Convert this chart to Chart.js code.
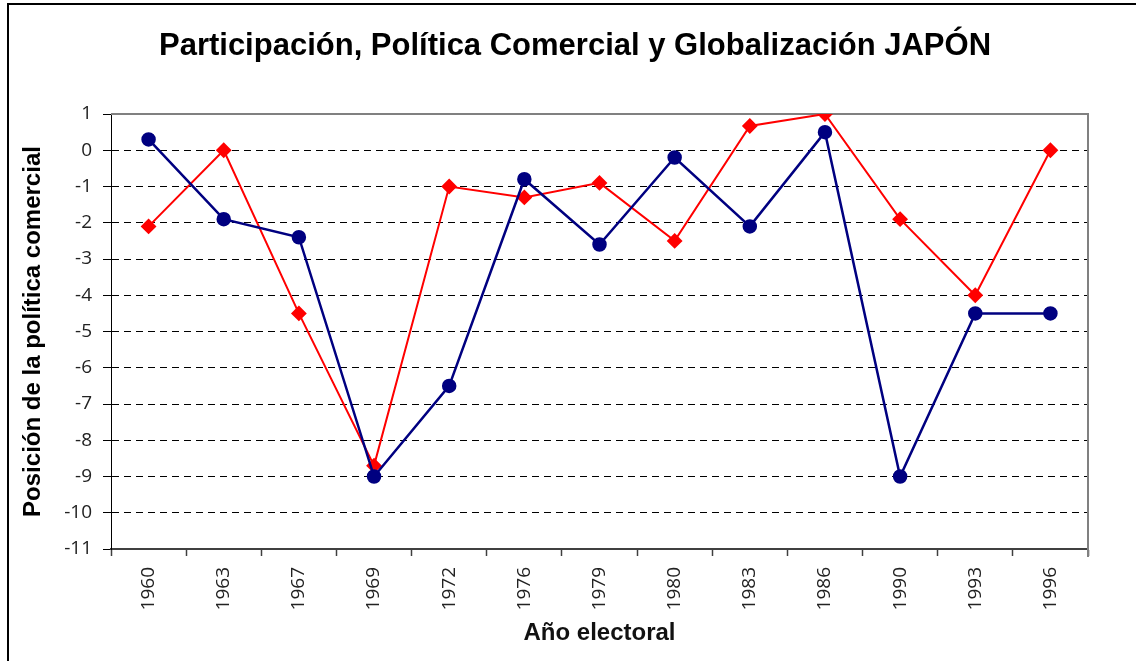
<!DOCTYPE html>
<html>
<head>
<meta charset="utf-8">
<script src="https://cdn.jsdelivr.net/npm/chart.js@4.4.1/dist/chart.umd.min.js"></script>
<style>
  body { margin: 0; background: #fff; }
  canvas { display: block; }
</style>
</head>
<body>
<canvas id="japonChart" width="1136" height="661"></canvas>
<script>
// Años electorales
const years = ['1960', '1963', '1967', '1969', '1972', '1976', '1979', '1980', '1983', '1986', '1990', '1993', '1996'];

// serie azul (círculos)
const blueValues = [0.3, -1.9, -2.4, -9, -6.5, -0.8, -2.6, -0.2, -2.1, 0.5, -9, -4.5, -4.5];

// serie roja (rombos)
const redValues = [-2.1, 0, -4.5, -8.7, -1, -1.3, -0.9, -2.5, 0.67, 1, -1.9, -4, 0];

const yMin = -11;
const yMax = 1;

const chartTitle = 'Participación, Política Comercial y Globalización JAPÓN';

const framePlugin = {
    id: 'frame',
    beforeDraw(chart) {
        const ctx = chart.ctx;
        ctx.save();
        ctx.fillStyle = '#fff';
        ctx.fillRect(0, 0, chart.width, chart.height);
        ctx.strokeStyle = '#000';
        ctx.lineWidth = 2;
        ctx.strokeRect(8, 4, chart.width + 20, chart.height + 20);
        // titulo
        ctx.fillStyle = '#000';
        ctx.font = 'bold 31px "Liberation Sans"';
        ctx.textAlign = 'center';
        ctx.textBaseline = 'middle';
        ctx.fillText(chartTitle, 575, 46);
        ctx.restore();
    },
    beforeDatasetsDraw(chart) {
        const a = chart.chartArea;
        const ctx = chart.ctx;
        ctx.save();
        ctx.strokeStyle = '#808080';
        ctx.lineWidth = 2;
        ctx.beginPath();
        ctx.moveTo(a.left, a.top);
        ctx.lineTo(a.right, a.top);
        ctx.lineTo(a.right, a.bottom + 8);
        ctx.stroke();
        ctx.restore();
    }
};

const ctx = document.getElementById('japonChart').getContext('2d');
new Chart(ctx, {
    type: 'line',
    data: {
        labels: years,
        datasets: [
            {
                label: 'Azul',
                data: blueValues,
                borderColor: '#000080',
                backgroundColor: '#000080',
                borderWidth: 2.5,
                pointStyle: 'circle',
                pointRadius: 6,
                tension: 0
            },
            {
                label: 'Rojo',
                data: redValues,
                borderColor: '#ff0000',
                backgroundColor: '#ff0000',
                borderWidth: 2,
                pointStyle: 'rectRot',
                pointRadius: 6.5,
                tension: 0
            }
        ]
    },
    options: {
        responsive: false,
        animation: false,
        layout: {
            padding: { left: 0, right: 48, top: 114, bottom: 0 }
        },
        plugins: {
            legend: { display: false },
            tooltip: { enabled: false },
            title: { display: false }
        },
        scales: {
            x: {
                offset: true,
                afterFit: (scale) => { scale.height = 112; },
                grid: {
                    offset: true,
                    drawOnChartArea: false,
                    drawTicks: true,
                    tickLength: 7,
                    tickColor: '#404040',
                    tickWidth: 1.5
                },
                border: { color: '#404040', width: 2 },
                ticks: {
                    minRotation: 90,
                    maxRotation: 90,
                    padding: 11,
                    color: '#222',
                    font: { family: 'Open Sans', size: 19 }
                },
                title: {
                    display: true,
                    text: 'Año electoral',
                    color: '#111',
                    font: { family: 'Liberation Sans', size: 24, weight: 'bold' },
                    padding: { top: 0, bottom: 13 }
                }
            },
            y: {
                min: yMin,
                max: yMax,
                afterFit: (scale) => { scale.width = 111; },
                grid: {
                    color: '#000',
                    lineWidth: 1,
                    tickLength: 8,
                    tickColor: '#000',
                    tickBorderDash: []
                },
                border: { color: '#000', width: 1, dash: [7, 5] },
                ticks: {
                    stepSize: 1,
                    padding: 11,
                    color: '#222',
                    font: { family: 'Open Sans', size: 19 }
                },
                title: {
                    display: true,
                    text: 'Posición de la política comercial',
                    color: '#000',
                    font: { family: 'Liberation Sans', size: 24, weight: 'bold' },
                    padding: { top: 19, bottom: 0 }
                }
            }
        }
    },
    plugins: [framePlugin]
});
</script>
</body>
</html>
